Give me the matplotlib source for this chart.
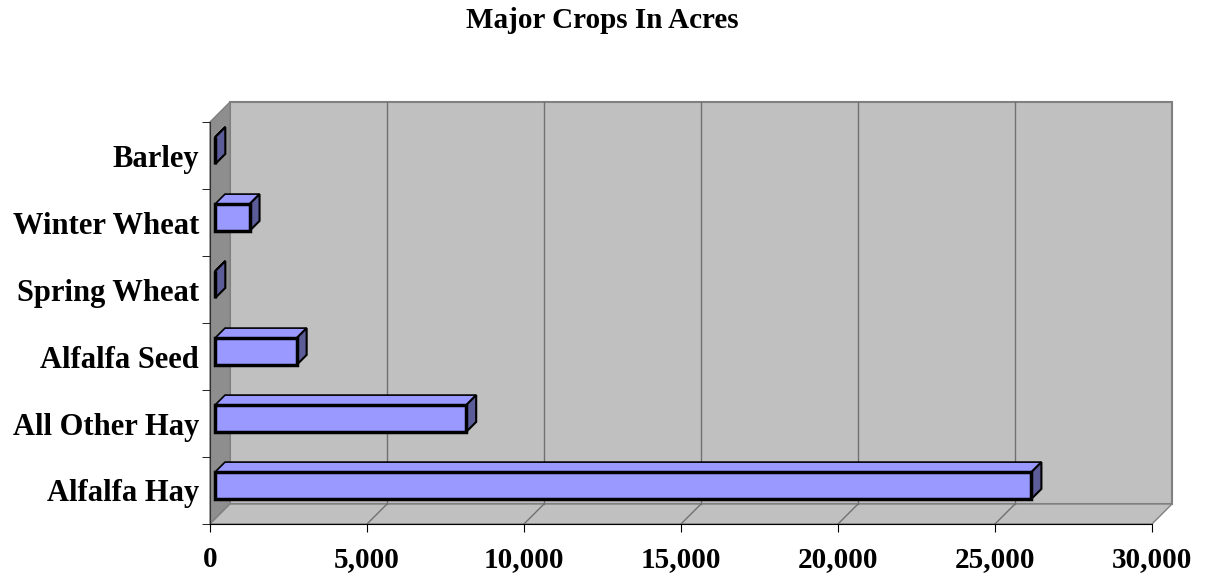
import matplotlib.pyplot as plt
from matplotlib.patches import Polygon

crops = ['Alfalfa Hay', 'All Other Hay', 'Alfalfa Seed', 'Spring Wheat', 'Winter Wheat', 'Barley']
acres = [26000, 8000, 2600, 10, 1100, 10]
x_ticks = [0, 5000, 10000, 15000, 20000, 25000, 30000]
x_labels = ['0', '5,000', '10,000', '15,000', '20,000', '25,000', '30,000']

serif = 'Liberation Serif'
wall_depth = 20   # pixels of the 3d depth
bar_depth = 10

fig = plt.figure(figsize=(12.05, 5.73), dpi=100)
ax = fig.add_axes([210 / 1205, 49 / 573, 942 / 1205, 402 / 573])
ax.set_xlim(0, 30000)
ax.set_ylim(-0.5, len(crops) - 0.5)
ax.patch.set_visible(False)


def shift(x, y, px):
    # move a data point px pixels right and up (depth direction)
    dx, dy = ax.transData.transform((x, y))
    return ax.transData.inverted().transform((dx + px, dy + px))


x0, x1 = ax.get_xlim()
y0, y1 = ax.get_ylim()

# walls
back = [shift(x0, y0, wall_depth), shift(x1, y0, wall_depth),
        shift(x1, y1, wall_depth), shift(x0, y1, wall_depth)]
left = [(x0, y0), shift(x0, y0, wall_depth), shift(x0, y1, wall_depth), (x0, y1)]
floor = [(x0, y0), (x1, y0), shift(x1, y0, wall_depth), shift(x0, y0, wall_depth)]
ax.add_patch(Polygon(back, closed=True, fc='#c0c0c0', ec='#808080', lw=1.5, clip_on=False, zorder=0))
ax.add_patch(Polygon(left, closed=True, fc='#8e8e8e', ec='#808080', lw=1, clip_on=False, zorder=0))
ax.add_patch(Polygon(floor, closed=True, fc='#c0c0c0', ec='#808080', lw=1, clip_on=False, zorder=0))

# gridlines on back wall and floor
for t in x_ticks[1:-1]:
    a = shift(t, y0, wall_depth)
    b = shift(t, y1, wall_depth)
    ax.plot([a[0], b[0]], [a[1], b[1]], color='#707070', lw=1, zorder=1, clip_on=False)
    ax.plot([t, a[0]], [y0, a[1]], color='#707070', lw=1, zorder=1, clip_on=False)

# bars
h = 0.4
off = (wall_depth - bar_depth) / 2
for i, v in enumerate(acres):
    fl, fb = shift(0, i - h / 2, off)
    fr, ft = shift(v, i + h / 2, off)
    top = [(fl, ft), (fr, ft), shift(fr, ft, bar_depth), shift(fl, ft, bar_depth)]
    side = [(fr, fb), (fr, ft), shift(fr, ft, bar_depth), shift(fr, fb, bar_depth)]
    ax.add_patch(Polygon(top, closed=True, fc='#9999ff', ec='black', lw=1.2, zorder=3, clip_on=False))
    ax.add_patch(Polygon(side, closed=True, fc='#5c5c99', ec='black', lw=1.5, zorder=3, clip_on=False))
    ax.barh(fb + (ft - fb) / 2, fr - fl, height=ft - fb, left=fl,
            color='#9999ff', edgecolor='black', linewidth=2.5, zorder=4)

ax.set_xlim(x0, x1)
ax.set_ylim(y0, y1)

for s in ['top', 'right']:
    ax.spines[s].set_visible(False)
ax.spines['left'].set_color('#303030')
ax.spines['bottom'].set_color('black')

ax.set_xticks(x_ticks)
ax.set_xticklabels(x_labels, fontsize=21, fontweight='bold', family=serif)
ax.set_yticks(range(len(crops)))
ax.set_yticklabels(crops, fontsize=22, fontweight='bold', family=serif)
ax.set_yticks([i - 0.5 for i in range(len(crops) + 1)], minor=True)
ax.tick_params(axis='y', which='major', length=0, pad=8)
ax.tick_params(axis='y', which='minor', length=6, color='black')
ax.tick_params(axis='x', length=6, pad=10, color='black')

fig.text(0.5, 1 - 21 / 573, 'Major Crops In Acres', ha='center', va='center',
         fontsize=21, fontweight='bold', family=serif)

fig.savefig('out.png', dpi=100)
